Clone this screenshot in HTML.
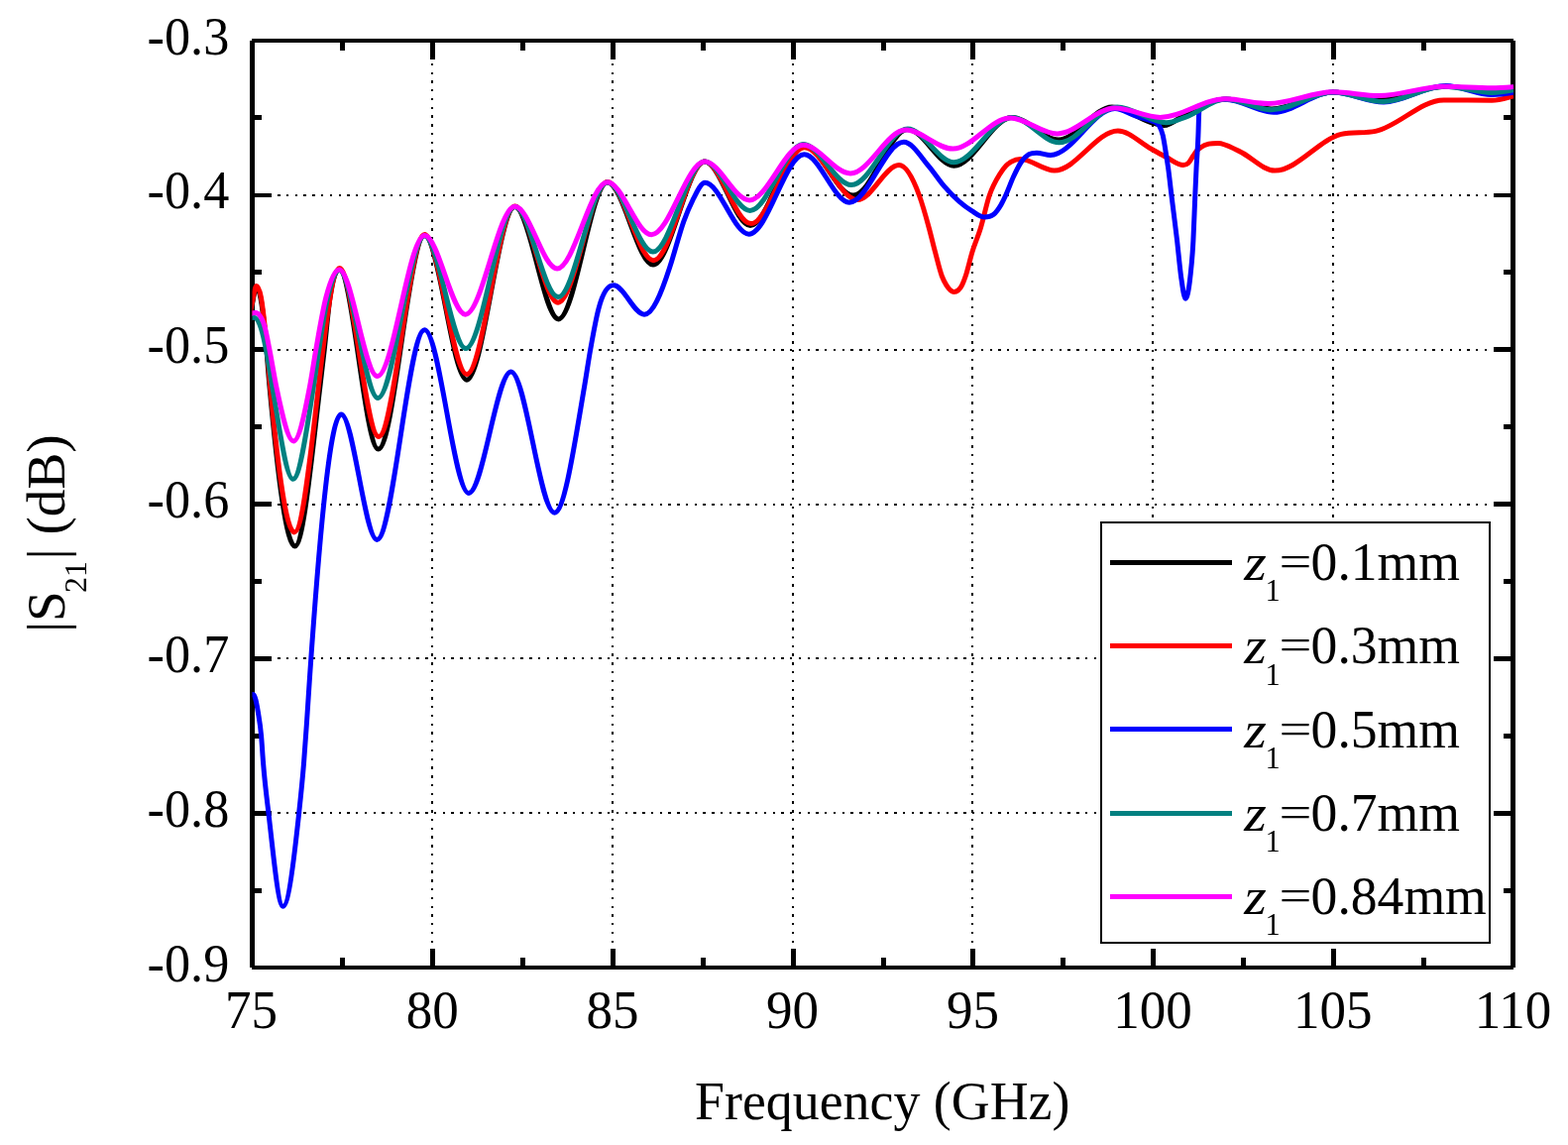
<!DOCTYPE html>
<html lang="en"><head><meta charset="utf-8"><title>|S21| (dB) vs Frequency (GHz)</title>
<style>html,body{margin:0;padding:0;background:#fff}svg{display:block}text{font-family:"Liberation Serif",serif;fill:#000}</style>
</head><body>
<svg width="1582" height="1155" viewBox="0 0 1582 1155">
<rect width="1582" height="1155" fill="#fff"/>
<g fill="none" stroke="#000" stroke-width="2" stroke-dasharray="2.4 6.36" shape-rendering="crispEdges">
<line x1="436" y1="63.8" x2="436" y2="958"/>
<line x1="618" y1="63.8" x2="618" y2="958"/>
<line x1="800" y1="63.8" x2="800" y2="958"/>
<line x1="981" y1="63.8" x2="981" y2="958"/>
<line x1="1163" y1="63.8" x2="1163" y2="958"/>
<line x1="1345" y1="63.8" x2="1345" y2="958"/>
<line x1="280.2" y1="197" x2="1505" y2="197"/>
<line x1="280.2" y1="353" x2="1505" y2="353"/>
<line x1="280.2" y1="509" x2="1505" y2="509"/>
<line x1="280.2" y1="664" x2="1505" y2="664"/>
<line x1="280.2" y1="820" x2="1505" y2="820"/>
</g>
<g fill="#000" shape-rendering="crispEdges">
<rect x="252" y="41" width="5" height="935"/>
<rect x="1524" y="41" width="5" height="935"/>
<rect x="254" y="39" width="1273" height="4"/>
<rect x="254" y="974" width="1273" height="4"/>
<rect x="343" y="43" width="5" height="8"/>
<rect x="343" y="966" width="5" height="8"/>
<rect x="434" y="43" width="5" height="17"/>
<rect x="434" y="957" width="5" height="17"/>
<rect x="525" y="43" width="5" height="8"/>
<rect x="525" y="966" width="5" height="8"/>
<rect x="616" y="43" width="5" height="17"/>
<rect x="616" y="957" width="5" height="17"/>
<rect x="707" y="43" width="5" height="8"/>
<rect x="707" y="966" width="5" height="8"/>
<rect x="798" y="43" width="5" height="17"/>
<rect x="798" y="957" width="5" height="17"/>
<rect x="889" y="43" width="5" height="8"/>
<rect x="889" y="966" width="5" height="8"/>
<rect x="979" y="43" width="5" height="17"/>
<rect x="979" y="957" width="5" height="17"/>
<rect x="1070" y="43" width="5" height="8"/>
<rect x="1070" y="966" width="5" height="8"/>
<rect x="1161" y="43" width="5" height="17"/>
<rect x="1161" y="957" width="5" height="17"/>
<rect x="1252" y="43" width="5" height="8"/>
<rect x="1252" y="966" width="5" height="8"/>
<rect x="1343" y="43" width="5" height="17"/>
<rect x="1343" y="957" width="5" height="17"/>
<rect x="1434" y="43" width="5" height="8"/>
<rect x="1434" y="966" width="5" height="8"/>
<rect x="257" y="116" width="7" height="5"/>
<rect x="1517" y="116" width="7" height="5"/>
<rect x="257" y="195" width="17" height="4"/>
<rect x="1507" y="195" width="17" height="4"/>
<rect x="257" y="272" width="7" height="5"/>
<rect x="1517" y="272" width="7" height="5"/>
<rect x="257" y="350" width="17" height="5"/>
<rect x="1507" y="350" width="17" height="5"/>
<rect x="257" y="428" width="7" height="5"/>
<rect x="1517" y="428" width="7" height="5"/>
<rect x="257" y="506" width="17" height="5"/>
<rect x="1507" y="506" width="17" height="5"/>
<rect x="257" y="584" width="7" height="5"/>
<rect x="1517" y="584" width="7" height="5"/>
<rect x="257" y="662" width="17" height="5"/>
<rect x="1507" y="662" width="17" height="5"/>
<rect x="257" y="740" width="7" height="5"/>
<rect x="1517" y="740" width="7" height="5"/>
<rect x="257" y="818" width="17" height="5"/>
<rect x="1507" y="818" width="17" height="5"/>
<rect x="257" y="896" width="7" height="5"/>
<rect x="1517" y="896" width="7" height="5"/>
</g>
<defs><clipPath id="pc"><rect x="254.5" y="41" width="1272.5" height="935"/></clipPath></defs>
<g fill="none" stroke-width="5" stroke-linejoin="round" stroke-linecap="butt" clip-path="url(#pc)">
<path stroke="#000000" d="M252.0,320.0C252.8,315.1 253.7,310.6 254.5,306.5C255.8,300.0 257.2,290.0 258.5,290.0C260.0,290.0 261.5,293.2 263.0,301.0C264.3,307.9 265.7,318.9 267.0,331.5C268.7,347.2 270.3,372.0 272.0,390.0C280.5,482.3 289.1,551.1 297.6,551.1C306.0,551.1 314.5,459.8 322.9,390.0C324.3,378.1 325.8,365.7 327.2,353.0C329.1,335.9 331.1,313.1 333.0,300.0C336.1,278.7 339.3,272.0 342.4,272.0C355.5,272.0 368.6,453.1 381.7,453.1C397.3,453.1 412.8,237.5 428.4,237.5C442.6,237.5 456.7,383.2 470.9,383.2C487.1,383.2 503.3,208.5 519.5,208.5C534.2,208.5 548.8,321.9 563.5,321.9C579.9,321.9 596.4,184.0 612.8,184.0C628.2,184.0 643.6,267.1 659.0,267.1C676.3,267.1 693.7,163.0 711.0,163.0C726.3,163.0 741.7,227.6 757.0,227.6C774.8,227.6 792.6,146.0 810.4,146.0C827.3,146.0 844.1,197.1 861.0,197.1C879.3,197.1 897.5,130.5 915.8,130.5C931.3,130.5 946.9,167.2 962.4,167.2C981.9,167.2 1001.5,118.5 1021.0,118.5C1036.7,118.5 1052.3,141.0 1068.0,141.0C1086.0,141.0 1104.0,107.9 1122.0,107.9C1135.1,107.9 1148.1,120.0 1161.2,123.5C1165.6,124.7 1170.0,126.5 1174.4,126.5C1181.7,126.5 1189.0,118.7 1196.3,115.3C1209.9,109.0 1223.4,100.0 1237.0,100.0C1252.3,100.0 1267.7,110.0 1283.0,110.0C1303.7,110.0 1324.3,93.0 1345.0,93.0C1361.0,93.0 1377.0,100.0 1393.0,100.0C1414.7,100.0 1436.3,87.3 1458.0,87.3C1473.7,87.3 1489.3,92.0 1505.0,92.0C1512.3,92.0 1519.7,91.1 1527.0,90.0"/>
<path stroke="#ff0000" d="M252.0,318.0C252.8,313.3 253.7,308.9 254.5,305.0C255.9,298.4 257.3,288.5 258.7,288.5C260.3,288.5 261.8,291.6 263.4,300.0C264.7,307.1 266.1,318.8 267.4,331.2C269.1,347.4 270.9,372.0 272.6,390.0C280.7,474.4 288.9,536.9 297.0,536.9C312.2,536.9 327.3,270.5 342.5,270.5C355.7,270.5 368.9,440.4 382.1,440.4C397.5,440.4 413.0,236.5 428.4,236.5C442.6,236.5 456.7,377.5 470.9,377.5C487.1,377.5 503.3,208.0 519.5,208.0C534.0,208.0 548.6,305.2 563.1,305.2C579.7,305.2 596.2,183.5 612.8,183.5C628.3,183.5 643.9,262.7 659.4,262.7C676.6,262.7 693.8,163.0 711.0,163.0C726.6,163.0 742.1,225.6 757.7,225.6C775.6,225.6 793.6,148.8 811.5,148.8C829.4,148.8 847.2,201.6 865.1,201.6C879.1,201.6 893.1,166.6 907.1,166.6C913.9,166.6 920.6,178.5 927.4,197.0C930.7,206.0 934.0,217.8 937.3,230.0C939.4,237.6 941.4,246.5 943.5,254.2C945.8,262.7 948.0,272.5 950.3,278.5C951.8,282.5 953.3,285.2 954.8,287.6C957.4,291.7 959.9,294.4 962.5,294.4C965.2,294.4 967.9,293.0 970.6,287.6C971.8,285.2 973.0,282.0 974.2,278.5C976.4,272.0 978.7,261.5 980.9,254.2C983.7,244.9 986.6,239.3 989.4,230.0C992.4,220.3 995.3,205.7 998.3,197.0C1001.7,187.0 1005.1,181.5 1008.5,176.0C1010.7,172.4 1013.0,169.2 1015.2,167.0C1016.9,165.3 1018.7,164.2 1020.4,163.2C1023.4,161.5 1026.5,160.6 1029.5,160.6C1040.9,160.6 1052.4,172.1 1063.8,172.1C1085.2,172.1 1106.5,132.0 1127.9,132.0C1139.0,132.0 1150.1,143.9 1161.2,150.0C1166.4,152.8 1171.6,156.0 1176.8,158.6C1182.5,161.5 1188.2,166.5 1193.9,166.5C1195.6,166.5 1197.3,166.1 1199.0,164.5C1200.7,162.9 1202.3,159.4 1204.0,157.0C1205.3,155.1 1206.7,152.9 1208.0,151.5C1209.3,150.1 1210.5,149.3 1211.8,148.5C1214.4,146.8 1217.0,145.9 1219.6,145.2C1222.7,144.4 1225.9,144.4 1229.0,144.4C1236.0,144.4 1243.0,149.3 1250.0,152.4C1262.1,157.7 1274.1,172.1 1286.2,172.1C1308.5,172.1 1330.9,140.8 1353.2,135.4C1364.7,132.6 1376.2,134.8 1387.7,132.4C1410.7,127.6 1433.6,100.9 1456.6,100.9C1472.8,100.9 1489.0,101.3 1505.2,101.3C1512.5,101.3 1519.7,98.8 1527.0,96.9"/>
<path stroke="#0000ff" d="M252.0,701.5C253.2,700.5 254.3,700.5 255.5,700.5C257.2,700.5 258.8,708.9 260.5,719.0C261.5,725.3 262.6,730.7 263.6,742.4C264.3,750.0 264.9,761.6 265.6,770.0C267.4,792.2 269.1,804.5 270.9,819.7C275.8,861.6 280.6,914.2 285.5,914.2C290.9,914.2 296.3,870.0 301.7,819.7C303.3,804.8 304.9,790.0 306.5,770.0C307.5,757.1 308.6,741.8 309.6,726.8C310.6,711.8 311.7,695.0 312.7,680.0C323.2,527.9 333.7,417.9 344.2,417.9C356.2,417.9 368.3,544.4 380.3,544.4C396.3,544.4 412.4,332.8 428.4,332.8C443.2,332.8 458.1,497.4 472.9,497.4C487.1,497.4 501.3,375.0 515.5,375.0C530.2,375.0 544.8,517.2 559.5,517.2C569.5,517.2 579.6,448.5 589.6,390.0C591.6,378.3 593.6,364.4 595.6,353.1C598.4,337.4 601.1,322.1 603.9,311.6C608.9,292.5 614.0,287.8 619.0,287.8C629.4,287.8 639.7,317.2 650.1,317.2C658.6,317.2 667.1,296.2 675.6,270.0C676.6,266.8 677.7,263.3 678.7,260.0C682.4,247.9 686.2,233.5 689.9,223.1C692.8,215.0 695.8,208.1 698.7,202.3C702.9,194.0 707.1,184.3 711.3,184.3C726.1,184.3 740.8,236.2 755.6,236.2C774.2,236.2 792.8,155.8 811.4,155.8C826.6,155.8 841.8,204.2 857.0,204.2C875.3,204.2 893.5,143.3 911.8,143.3C920.1,143.3 928.5,157.6 936.8,167.4C942.0,173.5 947.2,181.7 952.4,187.7C957.6,193.7 962.7,198.9 967.9,203.3C972.1,206.9 976.2,210.0 980.4,212.6C984.6,215.2 988.7,218.9 992.9,218.9C996.0,218.9 999.1,218.9 1002.2,216.5C1004.8,214.5 1007.4,210.9 1010.0,206.4C1011.6,203.7 1013.1,200.4 1014.7,197.0C1017.3,191.4 1019.9,183.9 1022.5,178.3C1025.1,172.7 1027.7,167.3 1030.3,163.5C1032.9,159.7 1035.5,157.2 1038.1,155.7C1040.7,154.2 1043.3,154.2 1045.9,154.2C1050.6,154.2 1055.2,156.5 1059.9,156.5C1081.6,156.5 1103.2,109.5 1124.9,109.5C1131.8,109.5 1138.7,114.6 1145.6,116.9C1150.4,118.5 1155.2,119.9 1160.0,121.5C1162.0,122.2 1164.0,122.1 1166.0,123.5C1167.1,124.3 1168.3,124.6 1169.4,126.5C1170.7,128.7 1172.0,131.0 1173.3,136.8C1174.2,141.0 1175.2,147.2 1176.1,153.0C1177.0,158.4 1177.8,163.6 1178.7,170.0C1179.8,177.8 1180.8,187.9 1181.9,196.7C1183.8,212.4 1185.7,226.2 1187.6,242.7C1188.9,254.3 1190.3,269.6 1191.6,279.1C1193.1,289.8 1194.6,301.3 1196.1,301.3C1197.7,301.3 1199.3,293.9 1200.9,279.1C1201.9,269.9 1202.9,262.2 1203.9,242.7C1204.5,230.3 1205.2,211.3 1205.8,196.7C1206.2,187.5 1206.6,178.2 1207.0,170.0C1207.6,157.1 1208.3,153.1 1208.9,136.8C1209.2,129.9 1209.4,118.0 1209.7,113.4C1209.9,110.5 1210.0,108.9 1210.2,108.5C1213.5,106.4 1216.7,104.8 1220.0,103.5C1225.4,101.4 1230.9,100.3 1236.3,100.3C1252.5,100.3 1268.8,113.3 1285.0,113.3C1305.0,113.3 1325.0,93.0 1345.0,93.0C1362.0,93.0 1379.0,103.0 1396.0,103.0C1416.9,103.0 1437.7,86.5 1458.6,86.5C1474.1,86.5 1489.7,95.5 1505.2,95.5C1512.5,95.5 1519.7,94.7 1527.0,93.2"/>
<path stroke="#008080" d="M252.0,321.5C253.3,320.3 254.7,320.3 256.0,320.3C258.5,320.3 260.9,323.5 263.4,331.2C265.1,336.5 266.8,344.4 268.5,353.0C270.6,363.4 272.6,378.4 274.7,390.0C281.7,429.2 288.6,483.2 295.6,483.2C302.5,483.2 309.4,433.9 316.3,390.0C318.1,378.5 319.9,364.7 321.7,353.0C324.7,333.5 327.7,313.1 330.7,300.0C334.5,283.3 338.4,272.5 342.2,272.5C355.2,272.5 368.3,401.5 381.3,401.5C397.0,401.5 412.7,238.0 428.4,238.0C442.2,238.0 456.1,351.6 469.9,351.6C486.4,351.6 503.0,208.5 519.5,208.5C534.0,208.5 548.6,299.6 563.1,299.6C579.7,299.6 596.2,184.0 612.8,184.0C628.1,184.0 643.5,254.0 658.8,254.0C676.2,254.0 693.6,163.0 711.0,163.0C726.2,163.0 741.5,212.4 756.7,212.4C774.6,212.4 792.5,145.5 810.4,145.5C826.6,145.5 842.8,186.6 859.0,186.6C877.9,186.6 896.9,130.1 915.8,130.1C931.3,130.1 946.9,163.7 962.4,163.7C981.9,163.7 1001.5,118.5 1021.0,118.5C1036.8,118.5 1052.7,143.8 1068.5,143.8C1088.0,143.8 1107.5,107.9 1127.0,107.9C1143.6,107.9 1160.2,123.7 1176.8,123.7C1183.3,123.7 1189.8,120.3 1196.3,118.1C1209.6,113.5 1223.0,100.0 1236.3,100.0C1251.9,100.0 1267.4,110.7 1283.0,110.7C1303.7,110.7 1324.3,93.0 1345.0,93.0C1361.9,93.0 1378.9,102.6 1395.8,102.6C1416.2,102.6 1436.6,87.3 1457.0,87.3C1473.1,87.3 1489.1,93.4 1505.2,93.4C1512.5,93.4 1519.7,92.2 1527.0,90.8"/>
<path stroke="#ff00ff" d="M252.0,317.5C253.8,315.5 255.7,315.4 257.5,315.4C260.8,315.4 264.2,318.4 267.5,331.2C269.0,336.9 270.5,345.4 272.0,353.0C274.3,364.5 276.5,379.1 278.8,390.0C284.6,417.8 290.4,445.0 296.2,445.0C301.6,445.0 307.1,418.5 312.5,390.0C314.6,379.1 316.6,364.7 318.7,353.0C322.1,333.7 325.5,313.1 328.9,300.0C333.3,282.9 337.8,272.0 342.2,272.0C355.0,272.0 367.9,379.6 380.7,379.6C396.6,379.6 412.5,237.5 428.4,237.5C442.1,237.5 455.8,317.2 469.5,317.2C486.2,317.2 502.8,208.2 519.5,208.2C533.7,208.2 547.9,270.9 562.1,270.9C579.0,270.9 595.9,183.8 612.8,183.8C627.6,183.8 642.5,236.7 657.3,236.7C675.2,236.7 693.1,163.0 711.0,163.0C726.0,163.0 741.0,201.9 756.0,201.9C774.1,201.9 792.3,146.3 810.4,146.3C826.3,146.3 842.1,174.9 858.0,174.9C876.6,174.9 895.2,131.1 913.8,131.1C929.7,131.1 945.5,150.1 961.4,150.1C980.7,150.1 999.9,118.9 1019.2,118.9C1035.1,118.9 1050.9,134.9 1066.8,134.9C1086.2,134.9 1105.5,109.0 1124.9,109.0C1140.1,109.0 1155.3,118.4 1170.5,118.4C1192.4,118.4 1214.4,99.7 1236.3,99.7C1250.9,99.7 1265.4,104.6 1280.0,104.6C1301.7,104.6 1323.3,92.8 1345.0,92.8C1360.6,92.8 1376.1,96.5 1391.7,96.5C1413.3,96.5 1435.0,87.2 1456.6,87.2C1472.8,87.2 1489.0,88.8 1505.2,88.8C1512.5,88.8 1519.7,88.2 1527.0,87.6"/>
</g>
<g font-size="54.7px">
<text transform="translate(231.3,54.5) scale(0.955,1)" text-anchor="end">-0.3</text>
<text transform="translate(231.3,210.3) scale(0.955,1)" text-anchor="end">-0.4</text>
<text transform="translate(231.3,366.2) scale(0.955,1)" text-anchor="end">-0.5</text>
<text transform="translate(231.3,522.0) scale(0.955,1)" text-anchor="end">-0.6</text>
<text transform="translate(231.3,677.8) scale(0.955,1)" text-anchor="end">-0.7</text>
<text transform="translate(231.3,833.7) scale(0.955,1)" text-anchor="end">-0.8</text>
<text transform="translate(231.3,989.5) scale(0.955,1)" text-anchor="end">-0.9</text>
<text transform="translate(253.5,1036.5) scale(0.97,1)" text-anchor="middle">75</text>
<text transform="translate(436.2,1036.5) scale(0.97,1)" text-anchor="middle">80</text>
<text transform="translate(617.9,1036.5) scale(0.97,1)" text-anchor="middle">85</text>
<text transform="translate(799.6,1036.5) scale(0.97,1)" text-anchor="middle">90</text>
<text transform="translate(981.4,1036.5) scale(0.97,1)" text-anchor="middle">95</text>
<text transform="translate(1163.1,1036.5) scale(0.97,1)" text-anchor="middle">100</text>
<text transform="translate(1344.8,1036.5) scale(0.97,1)" text-anchor="middle">105</text>
<text transform="translate(1526.5,1036.5) scale(0.97,1)" text-anchor="middle">110</text>
<text transform="translate(890.2,1128.5) scale(0.985,1)" text-anchor="middle">Frequency (GHz)</text>
<text transform="translate(65,538.2) rotate(-90) scale(1.01,1)" text-anchor="middle">|S<tspan font-size="31.5px" dx="-1.6" dy="22">21</tspan><tspan dx="1.6" dy="-22">| (dB)</tspan></text>
</g>
<g shape-rendering="crispEdges">
<rect x="1111" y="527" width="392" height="424" fill="#fff" stroke="#000" stroke-width="2"/>
<rect x="1120" y="565" width="123" height="5" fill="#000000"/>
<rect x="1120" y="649" width="123" height="5" fill="#ff0000"/>
<rect x="1120" y="733" width="123" height="5" fill="#0000ff"/>
<rect x="1120" y="818" width="123" height="5" fill="#008080"/>
<rect x="1120" y="902" width="123" height="5" fill="#ff00ff"/>
</g>
<g font-size="54.7px">
<text transform="translate(1255.3,585.00) scale(1.06,0.95)" font-style="italic">z</text>
<text x="1276.6" y="606.40" font-size="30.5px">1</text>
<text transform="translate(1290.4,581.10) scale(1.07,0.82)">=</text>
<text transform="translate(1322.6,585.0) scale(0.98,1)" text-anchor="start">0.1mm</text>
<text transform="translate(1255.3,669.25) scale(1.06,0.95)" font-style="italic">z</text>
<text x="1276.6" y="690.65" font-size="30.5px">1</text>
<text transform="translate(1290.4,665.35) scale(1.07,0.82)">=</text>
<text transform="translate(1322.6,669.2) scale(0.98,1)" text-anchor="start">0.3mm</text>
<text transform="translate(1255.3,753.50) scale(1.06,0.95)" font-style="italic">z</text>
<text x="1276.6" y="774.90" font-size="30.5px">1</text>
<text transform="translate(1290.4,749.60) scale(1.07,0.82)">=</text>
<text transform="translate(1322.6,753.5) scale(0.98,1)" text-anchor="start">0.5mm</text>
<text transform="translate(1255.3,837.75) scale(1.06,0.95)" font-style="italic">z</text>
<text x="1276.6" y="859.15" font-size="30.5px">1</text>
<text transform="translate(1290.4,833.85) scale(1.07,0.82)">=</text>
<text transform="translate(1322.6,837.8) scale(0.98,1)" text-anchor="start">0.7mm</text>
<text transform="translate(1255.3,922.00) scale(1.06,0.95)" font-style="italic">z</text>
<text x="1276.6" y="943.40" font-size="30.5px">1</text>
<text transform="translate(1290.4,918.10) scale(1.07,0.82)">=</text>
<text transform="translate(1322.6,922.0) scale(0.98,1)" text-anchor="start">0.84mm</text>
</g>
</svg>
</body></html>
